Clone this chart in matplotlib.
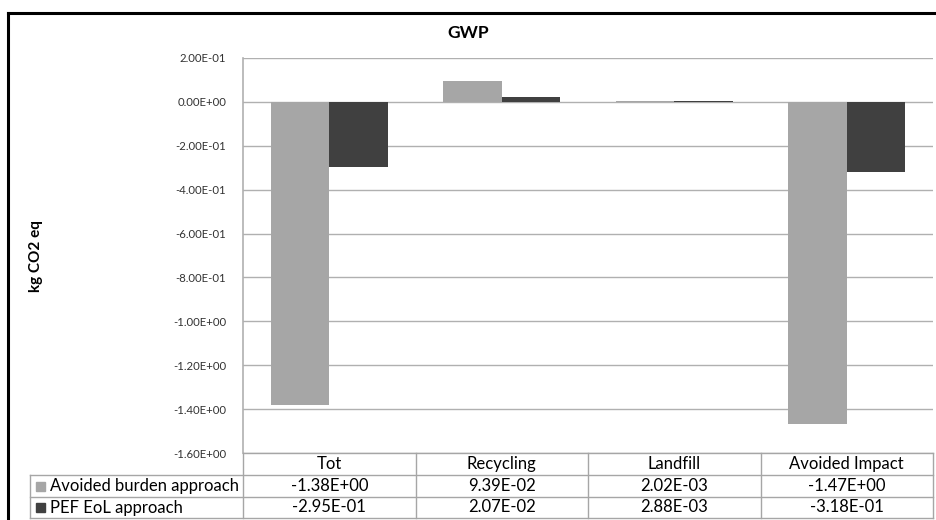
import matplotlib.pyplot as plt
import numpy as np
from matplotlib.lines import Line2D
from matplotlib.patches import Rectangle
from matplotlib.transforms import blended_transform_factory

# data
categories = ['Tot', 'Recycling', 'Landfill', 'Avoided Impact']
series_names = ['Avoided burden approach', 'PEF EoL approach']
avoided_burden = [-1.38, 9.39e-2, 2.02e-3, -1.47]
pef_eol = [-2.95e-1, 2.07e-2, 2.88e-3, -3.18e-1]
yticks = [0.2, 0.0, -0.2, -0.4, -0.6, -0.8, -1.0, -1.2, -1.4, -1.6]

colors = ['#a6a6a6', '#404040']
W, H = 936, 520

plt.rcParams['font.family'] = ['Lato', 'DejaVu Sans']
fig = plt.figure(figsize=(W / 100, H / 100), dpi=100)

# plot area (pixel positions of the reference)
x0, x1, ytop, ybot = 243, 933, 58, 453
ax = fig.add_axes([x0 / W, 1 - ybot / H, (x1 - x0) / W, (ybot - ytop) / H])

x = np.arange(len(categories))
w = 0.34
ax.bar(x - w / 2, avoided_burden, w, color=colors[0], label=series_names[0], zorder=3)
ax.bar(x + w / 2, pef_eol, w, color=colors[1], label=series_names[1], zorder=3)

ax.set_xlim(-0.5, len(categories) - 0.5)
ax.set_ylim(yticks[-1], yticks[0])
ax.set_yticks(yticks)
ax.set_yticklabels(['%.2E' % v for v in yticks], fontsize=8.2, color='#333333')
ax.tick_params(axis='y', length=0, pad=12)
ax.set_xticks([])
ax.yaxis.grid(True, color='#b0b0b0', linewidth=1.0, zorder=0)
for s in ['top', 'right', 'bottom']:
    ax.spines[s].set_visible(False)
ax.spines['left'].set_color('#b0b0b0')
ax.spines['left'].set_linewidth(1.2)

fig.text(468 / W, 1 - 33 / H, 'GWP', ha='center', va='center', fontsize=12.5, fontweight='bold')
fig.text(36 / W, 1 - 256 / H, 'kg CO2 eq', rotation=90, ha='center', va='center',
         fontsize=11, fontweight='bold')

# data table under the plot
tr = blended_transform_factory(ax.transData, fig.transFigure)
line_col = '#a6a6a6'
rows_y = [453, 475, 497, 518]
fy = [1 - v / H for v in rows_y]
lab_left = 30 / W

# horizontal lines
fig.add_artist(Line2D([x0 / W, x1 / W], [fy[0], fy[0]], color=line_col, lw=1))
for yy in fy[1:]:
    fig.add_artist(Line2D([lab_left, x1 / W], [yy, yy], color=line_col, lw=1))
# vertical lines
fig.add_artist(Line2D([lab_left, lab_left], [fy[1], fy[3]], color=line_col, lw=1))
for i in range(len(categories) + 1):
    fig.add_artist(Line2D([i - 0.5, i - 0.5], [fy[0], fy[3]], color=line_col, lw=1,
                          transform=tr))

fs = 12
for i, c in enumerate(categories):
    fig.text(i, (fy[0] + fy[1]) / 2, c, transform=tr, ha='center', va='center', fontsize=fs)
for r, (name, vals) in enumerate(zip(series_names, [avoided_burden, pef_eol])):
    yc = (fy[r + 1] + fy[r + 2]) / 2
    fig.add_artist(Rectangle((36 / W, yc - 4.5 / H), 9 / W, 9 / H, color=colors[r],
                             transform=fig.transFigure))
    fig.text(50 / W, yc, name, ha='left', va='center', fontsize=fs)
    for i, v in enumerate(vals):
        fig.text(i, yc, '%.2E' % v, transform=tr, ha='center', va='center', fontsize=fs)

# outer frame (left and top edges)
fig.add_artist(Line2D([8 / W, 8 / W], [0, 1 - 13 / H], color='black', lw=2.2))
fig.add_artist(Line2D([8 / W, 1], [1 - 13 / H, 1 - 13 / H], color='black', lw=2.2))

plt.savefig('out.png', dpi=100)
